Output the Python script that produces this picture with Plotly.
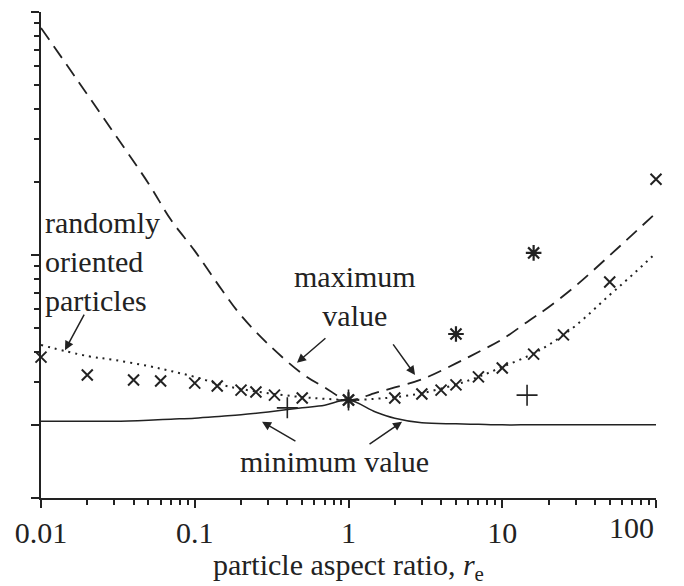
import math
import plotly.graph_objects as go

# ---------------- data ----------------
# curve sample points (particle aspect ratio)
r_curve = [0.01, 0.02, 0.03, 0.05, 0.07, 0.1, 0.15, 0.2, 0.3, 0.5, 0.7, 1,
           1.5, 2, 3, 5, 7, 10, 15, 20, 30, 50, 70, 100]
max_value = [86, 45.8, 31.6, 19.7, 13.96, 10.4, 7.19, 5.64, 4.30, 3.25, 2.85, 2.53,
             2.71, 2.85, 3.08, 3.58, 3.99, 4.50, 5.38, 6.10, 7.46, 9.96, 12.1, 14.9]
random_value = [4.26, 3.84, 3.70, 3.49, 3.33, 3.15, 2.92, 2.81, 2.70, 2.60, 2.56, 2.53,
                2.56, 2.60, 2.70, 2.93, 3.15, 3.46, 3.86, 4.26, 5.12, 6.85, 8.27, 10.2]
min_value = [2.07, 2.07, 2.07, 2.09, 2.11, 2.13, 2.17, 2.20, 2.26, 2.35, 2.41, 2.53,
             2.26, 2.13, 2.04, 2.02, 2.01, 2.00, 2.00, 2.00, 2.00, 2.00, 2.00, 2.00]

# measured points
r_cross = [0.01, 0.02, 0.04, 0.06, 0.1, 0.14, 0.2, 0.25, 0.33, 0.5, 1,
           2, 3, 4, 5, 7, 10, 16, 25, 50, 100]
v_cross = [3.80, 3.21, 3.06, 3.03, 2.97, 2.89, 2.78, 2.73, 2.65, 2.58, 2.53,
           2.58, 2.68, 2.78, 2.92, 3.15, 3.43, 3.91, 4.69, 7.74, 20.5]
r_star = [1, 5, 16]
v_star = [2.53, 4.73, 10.2]
r_plus = [0.4, 1, 14.5]
v_plus = [2.35, 2.53, 2.65]

x_tickvals = [0.01, 0.1, 1, 10, 100]
x_ticktext = ["0.01", "0.1", "1", "10", "100"]
x_minor = [m * d for d in [0.01, 0.1, 1, 10] for m in range(2, 10)]
y_tickvals = [1, 2, 10, 100]
y_minor = [m * d for d in [1, 10] for m in range(3, 10)] + [20]

# text labels: (text, r, value, align)
labels = [
    ("randomly<br>oriented<br>particles", 0.0103, 9.4, "left"),
    ("maximum<br>value", 1.10, 6.78, "center"),
    ("minimum value", 0.805, 1.41, "center"),
]
# arrows: (head r, head v, tail r, tail v)
arrows = [
    (0.01432, 4.06, 0.01932, 5.77),
    (0.462, 3.60, 0.724, 4.60),
    (2.71, 3.21, 1.92, 4.35),
    (0.274, 2.06, 0.462, 1.70),
    (2.23, 2.06, 1.34, 1.65),
]

INK = "#222222"
FONT = "Liberation Serif"

fig = go.Figure()
fig.add_trace(go.Scatter(x=r_curve, y=max_value, mode="lines",
                         line=dict(color=INK, width=1.8, dash="14px,8px"),
                         line_shape="spline", showlegend=False))
fig.add_trace(go.Scatter(x=r_curve, y=random_value, mode="lines",
                         line=dict(color=INK, width=2, dash="2px,5px"),
                         line_shape="spline", showlegend=False))
fig.add_trace(go.Scatter(x=r_curve, y=min_value, mode="lines",
                         line=dict(color=INK, width=1.5),
                         line_shape="spline", showlegend=False))
fig.add_trace(go.Scatter(x=r_cross, y=v_cross, mode="markers", cliponaxis=False,
                         marker=dict(symbol="x-thin", size=11, line=dict(color=INK, width=2)),
                         showlegend=False))
fig.add_trace(go.Scatter(x=r_star, y=v_star, mode="markers", cliponaxis=False,
                         marker=dict(symbol="asterisk", size=13, line=dict(color=INK, width=2.2)),
                         showlegend=False))
fig.add_trace(go.Scatter(x=r_plus, y=v_plus, mode="markers", cliponaxis=False,
                         marker=dict(symbol="cross-thin", size=15, line=dict(color=INK, width=1.6)),
                         showlegend=False))

annots = []
for text, x, y, align in labels:
    annots.append(dict(text=text, x=math.log10(x), y=math.log10(y), xref="x", yref="y",
                       showarrow=False, align=align,
                       xanchor="left" if align == "left" else "center", yanchor="middle",
                       font=dict(family=FONT, size=30, color=INK)))
for hx, hy, tx, ty in arrows:
    annots.append(dict(text="", x=math.log10(hx), y=math.log10(hy),
                       ax=math.log10(tx), ay=math.log10(ty),
                       xref="x", yref="y", axref="x", ayref="y",
                       showarrow=True, arrowhead=2, arrowsize=1.2, arrowwidth=1.5,
                       arrowcolor=INK))
# the last tick label ("100") ends flush with the axis end, as in the original
annots.append(dict(text=x_ticktext[-1], x=math.log10(x_tickvals[-1]), xref="x",
                   y=-0.0617, yref="paper", xanchor="right", yanchor="middle",
                   showarrow=False, font=dict(family=FONT, size=30, color=INK)))
axis_ticktext = x_ticktext[:-1] + [""]

# the page body adds an 8px offset, so the figure is sized to fill the rest
fig.update_layout(
    width=676, height=578,
    margin=dict(l=33, r=28, t=4, b=88),
    paper_bgcolor="white", plot_bgcolor="white",
    font=dict(family=FONT, size=30, color=INK),
    annotations=annots,
)
fig.update_xaxes(type="log", range=[-2, 2], showgrid=False, zeroline=False, automargin=False,
                 showline=True, linecolor=INK, linewidth=2,
                 tickmode="array", tickvals=x_tickvals, ticktext=axis_ticktext,
                 ticks="outside", ticklen=8, tickwidth=2, tickcolor=INK,
                 ticklabelstandoff=-1,
                 tickfont=dict(family=FONT, size=30, color=INK),
                 minor=dict(tickmode="array", tickvals=x_minor, ticks="outside",
                            ticklen=5, tickwidth=1.5, tickcolor=INK, showgrid=False),
                 title=dict(text="particle aspect ratio, <i>r</i><sub>e</sub>",
                            font=dict(family=FONT, size=30, color=INK), standoff=15))
fig.update_yaxes(type="log", range=[0, 2], showgrid=False, zeroline=False, automargin=False,
                 showline=True, linecolor=INK, linewidth=2,
                 tickmode="array", tickvals=y_tickvals, showticklabels=False,
                 ticks="outside", ticklen=8, tickwidth=2, tickcolor=INK,
                 minor=dict(tickmode="array", tickvals=y_minor, ticks="outside",
                            ticklen=5, tickwidth=1.5, tickcolor=INK, showgrid=False))

fig.write_html("out.html")
